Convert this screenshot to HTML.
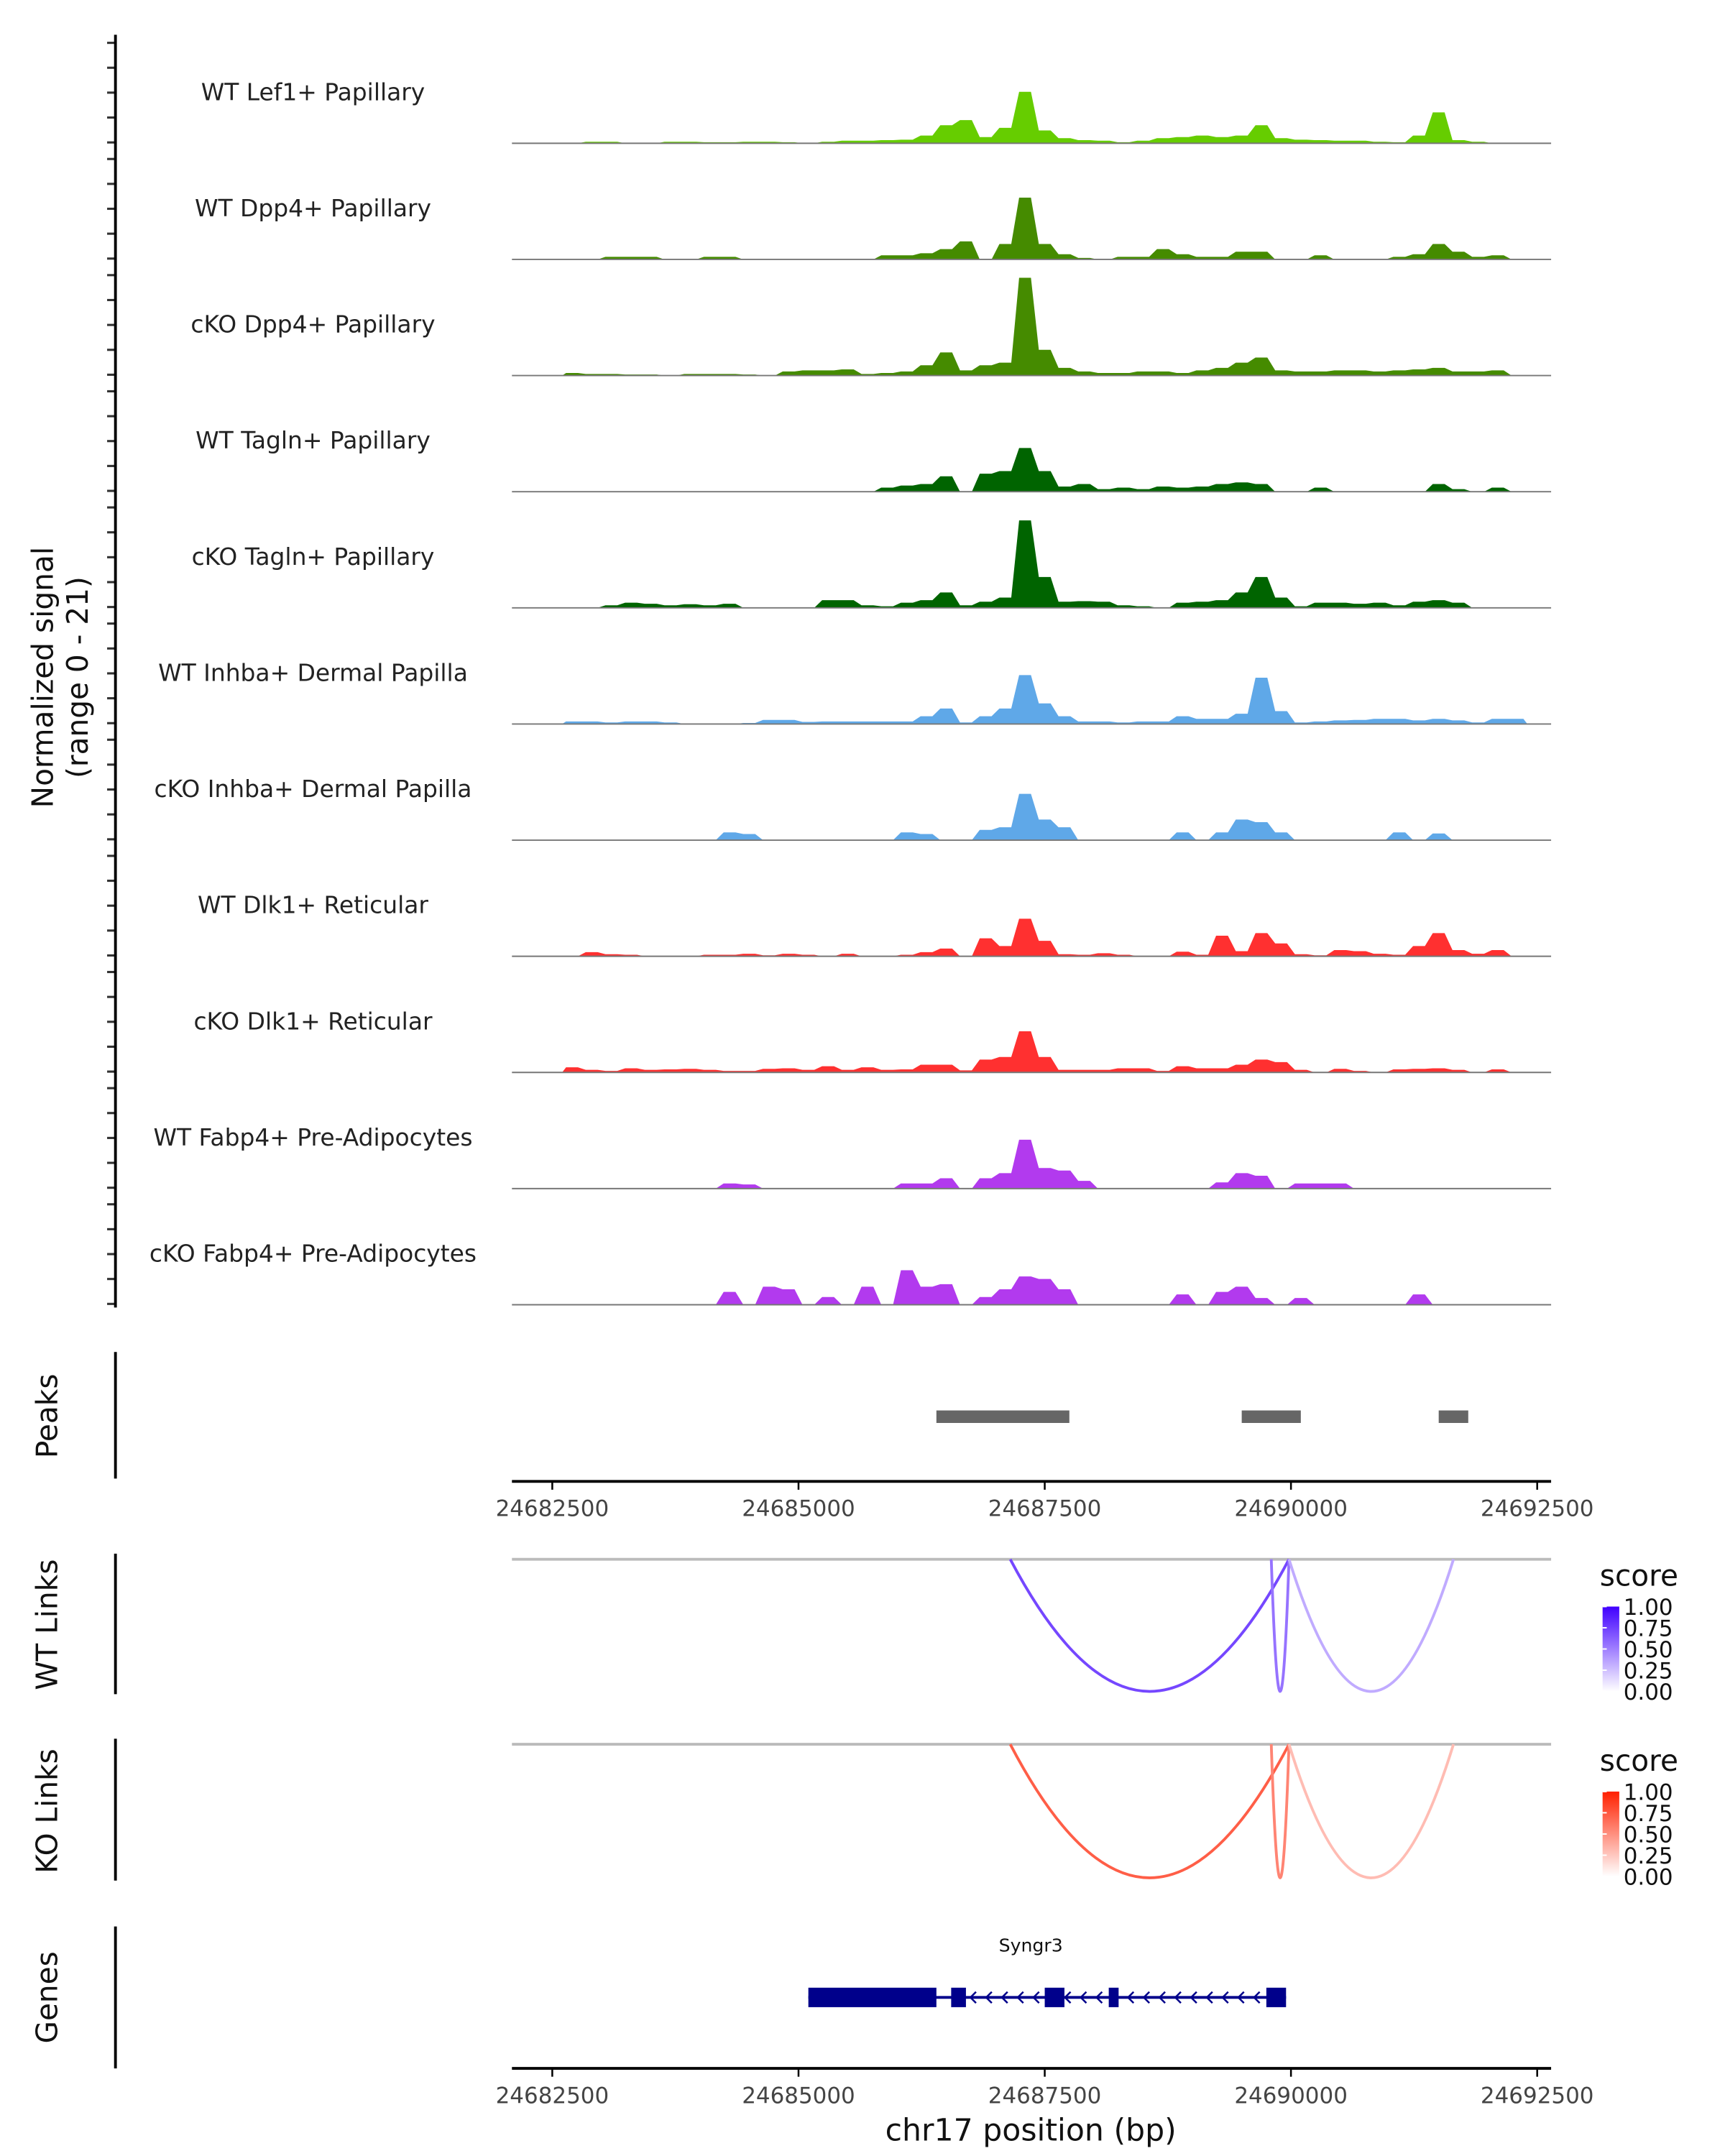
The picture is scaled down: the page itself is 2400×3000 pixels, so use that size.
<!DOCTYPE html>
<html><head><meta charset="utf-8"><style>
html,body{margin:0;padding:0;background:#fff}
svg{display:block}
text{font-family:"DejaVu Sans","Liberation Sans",sans-serif}
</style></head><body>
<svg id="chart" width="2400" height="3000" viewBox="0 0 1240 1550" preserveAspectRatio="none" xmlns="http://www.w3.org/2000/svg">
<g id="tracks"></g>
<g id="axes"></g>
<g id="links"></g>
<g id="genes"></g>
</svg>
<script>
const binStart = 24682600;
const binSize = 200;
const trackNames = ["WT Lef1+ Papillary","WT Dpp4+ Papillary","cKO Dpp4+ Papillary","WT Tagln+ Papillary","cKO Tagln+ Papillary","WT Inhba+ Dermal Papilla","cKO Inhba+ Dermal Papilla","WT Dlk1+ Reticular","cKO Dlk1+ Reticular","WT Fabp4+ Pre-Adipocytes","cKO Fabp4+ Pre-Adipocytes"];
const trackColors = ["#66cd00","#458b00","#458b00","#006400","#006400","#5fa8e8","#5fa8e8","#ff3030","#ff3030","#b23aee","#b23aee"];
const lef1WT = [0,0.3,0.3,0,0,0.3,0.3,0.2,0.2,0.3,0.3,0.2,0,0.3,0.5,0.5,0.6,0.7,1.5,3.5,4.5,1.2,3,10,2.5,1,0.6,0.5,0.2,0.5,1,1.2,1.5,1.2,1.5,3.5,1,0.7,0.6,0.5,0.5,0.3,0.2,1.5,6,0.6,0.3,0,0];
const dpp4WT = [0,0,0.5,0.5,0.5,0,0,0.5,0.5,0,0,0,0,0,0,0,0.8,0.8,1.2,2,3.5,0,3,12,3,1,0.3,0,0.5,0.5,2,1,0.5,0.5,1.5,1.5,0,0,0.8,0,0,0,0.5,1,3,1.5,0.5,0.8,0];
const dpp4KO = [0.5,0.3,0.3,0.2,0.2,0,0.3,0.3,0.3,0.2,0,0.8,1,1,1.2,0.3,0.5,0.8,2,4.5,1,2,2.5,19,5,1.5,0.8,0.5,0.5,0.8,0.8,0.5,1,1.5,2.5,3.5,1,0.8,0.8,1,1,0.8,1,1.2,1.5,0.8,0.8,1,0];
const taglnWT = [0,0,0,0,0,0,0,0,0,0,0,0,0,0,0,0,0.8,1.2,1.5,3,0,3.5,4,8.5,4,1,1.5,0.5,0.8,0.5,1,0.8,1,1.5,1.8,1.5,0,0,0.8,0,0,0,0,0,1.5,0.5,0,0.8,0];
const taglnKO = [0,0,0.5,1,0.8,0.5,0.7,0.5,0.8,0,0,0,0,1.5,1.5,0.5,0.3,1,1.5,3,0.5,1.2,2,17,6,1.2,1.3,1.2,0.5,0.3,0,1,1.2,1.5,3,6,2,0.3,1,1,0.8,1,0.5,1.2,1.5,1,0,0,0];
const inhbaWT = [0.5,0.5,0.3,0.5,0.5,0.3,0,0,0,0.2,0.8,0.8,0.4,0.5,0.5,0.5,0.5,0.5,1.5,3,0.3,1.5,3,9.5,4,1.5,0.5,0.5,0.3,0.5,0.5,1.5,1,1,2,9,2.5,0.3,0.5,0.7,0.8,1,1,0.7,1,0.7,0.3,1,1];
const inhbaKO = [0,0,0,0,0,0,0,0,1.5,1.2,0,0,0,0,0,0,0,1.5,1.2,0,0,2,2.5,9,4,2.5,0,0,0,0,0,1.5,0,1.5,4,3.5,1.5,0,0,0,0,0,1.5,0,1.3,0,0,0,0];
const dlk1WT = [0,0.8,0.4,0.3,0,0,0,0.3,0.3,0.5,0.2,0.5,0.3,0,0.5,0,0,0.3,0.8,1.5,0,3.5,2,7.3,3,0.4,0.3,0.6,0.3,0,0,0.9,0.3,4,1,4.5,2.5,0.4,0.2,1.2,1,0.5,0.3,2,4.5,1.2,0.5,1.2,0];
const dlk1KO = [1,0.5,0.3,0.8,0.5,0.6,0.7,0.5,0.3,0.3,0.7,0.8,0.5,1.2,0.5,1,0.5,0.6,1.5,1.5,0.4,2.5,3,8,3,0.5,0.5,0.5,0.8,0.8,0.3,1.2,0.8,0.8,1.5,2.5,2,0.5,0,0.7,0.3,0,0.6,0.7,0.8,0.5,0,0.6,0];
const fabp4WT = [0,0,0,0,0,0,0,0,1,0.8,0,0,0,0,0,0,0,1,1,2,0,2,3,9.5,4,3.5,1.5,0,0,0,0,0,0,1.2,3,2.5,0,1,1,1,0,0,0,0,0,0,0,0,0];
const fabp4KO = [0,0,0,0,0,0,0,0,2.5,0,3.5,3,0,1.5,0,3.5,0,6.7,3.5,4,0,1.5,3,5.5,5,3,0,0,0,0,0,2,0,2.5,3.5,1.3,0,1.3,0,0,0,0,0,2,0,0,0,0,0];
const trackValues = [lef1WT,dpp4WT,dpp4KO,taglnWT,taglnKO,inhbaWT,inhbaKO,dlk1WT,dlk1KO,fabp4WT,fabp4KO];
const xTicks = [24682500,24685000,24687500,24690000,24692500];
const peakStarts = [24686400,24689500,24691500];
const peakEnds = [24687750,24690100,24691800];
const linkStarts = [24687150,24689800,24689980];
const linkEnds = [24689980,24689980,24691650];
const wtScores = [0.72,0.55,0.33];
const koScores = [0.72,0.55,0.30];
const legendTicks = ["1.00","0.75","0.50","0.25","0.00"];
const exonStarts = [24685100,24686550,24687500,24688150,24689750];
const exonEnds = [24686400,24686700,24687700,24688250,24689950];
const geneStart = 24685100, geneEnd = 24689950;

const NS="http://www.w3.org/2000/svg";
function X(bp){return 397+(bp-24682500)*0.0708;}
const unitPx = 3.7;
function mk(tag,attrs,parent,txt){const e=document.createElementNS(NS,tag);for(const k in attrs)e.setAttribute(k,attrs[k]);if(txt!==undefined)e.textContent=txt;parent.appendChild(e);return e;}
const T=document.getElementById('tracks'),A=document.getElementById('axes'),L=document.getElementById('links'),G=document.getElementById('genes');

trackValues.forEach((vals,i)=>{
  const base=103+i*83.5;
  let d=`M${X(binStart)},${base}`;
  vals.forEach((v,j)=>{
    const xa=X(binStart+j*binSize+binSize*0.2),xb=X(binStart+j*binSize+binSize*0.8),y=base-v*unitPx;
    d+=` L${xa},${y} L${xb},${y}`;
  });
  d+=` L${X(binStart+vals.length*binSize)},${base} Z`;
  const p=mk('path',{d:d,fill:trackColors[i]},T);
  
  
  const bl=mk('line',{x1:368,x2:1115,y1:base,y2:base,stroke:'#777','stroke-width':1},T);
  
  
  const t=mk('text',{x:225,y:base-31,'text-anchor':'middle','font-size':17,fill:'#222'},T,trackNames[i]);
  
  
  for(let k=0;k<5;k++){const y=base-0.6-k*17.9;mk('line',{x1:77,x2:83,y1:y,y2:y,stroke:'#333','stroke-width':1.6},A);}
});

mk('line',{x1:83,x2:83,y1:25,y2:940,stroke:'#000','stroke-width':2},A);
const yt=mk('text',{transform:'translate(42,487) rotate(-90)','text-anchor':'middle','font-size':21,fill:'#111'},A);


mk('tspan',{x:0,dy:-4},yt,'Normalized signal');
mk('tspan',{x:0,dy:25},yt,'(range 0 - 21)');

function panelLabel(txt,yc,y1,y2,name){
  mk('line',{x1:83,x2:83,y1:y1,y2:y2,stroke:'#000','stroke-width':2},A);
  const t=mk('text',{transform:`translate(41,${yc}) rotate(-90)`,'text-anchor':'middle','font-size':21,fill:'#111'},A,txt);
  
  
}
panelLabel('Peaks',1018,972,1063,'peaks-label');
panelLabel('WT Links',1168,1117,1218,'wt-links-label');
panelLabel('KO Links',1302,1250,1352,'ko-links-label');
panelLabel('Genes',1436,1385,1487,'genes-label');

peakStarts.forEach((s,i)=>{
  const r=mk('rect',{x:X(s),y:1014,width:X(peakEnds[i])-X(s),height:9,fill:'#666'},A);
  
  
});

function xAxis(y,name){
  const g=mk('g',{},A);
  
  
  mk('line',{x1:368,x2:1115,y1:y,y2:y,stroke:'#000','stroke-width':2},g);
  xTicks.forEach(t=>{mk('line',{x1:X(t),x2:X(t),y1:y,y2:y+6,stroke:'#000','stroke-width':1.3},g);
    mk('text',{x:X(t),y:y+25,'text-anchor':'middle','font-size':16,fill:'#444'},g,String(t));});
}
xAxis(1065,'peaks-x-axis');
xAxis(1487,'genes-x-axis');
const xt=mk('text',{x:741,y:1539,'text-anchor':'middle','font-size':22,fill:'#111'},A,'chr17 position (bp)');



function linkPanel(top,bottom,scores,hi,gid,name){
  const g=mk('g',{},L);
  
  
  mk('line',{x1:368,x2:1115,y1:top,y2:top,stroke:'#bbb','stroke-width':2},g);
  scores.forEach((s,i)=>{
    const x0=X(linkStarts[i]),x1=X(linkEnds[i]);
    const c=`rgb(${Math.round(255+(hi[0]-255)*s)},${Math.round(255+(hi[1]-255)*s)},${Math.round(255+(hi[2]-255)*s)})`;
    const p=mk('path',{d:`M${x0},${top} Q${(x0+x1)/2},${2*bottom-top} ${x1},${top}`,fill:'none',stroke:c,'stroke-width':2},g);
    
    
  });
  const lg=mk('g',{},g);
  
  
  mk('text',{x:1150,y:top+19,'font-size':21,fill:'#111'},lg,'score');
  const defs=mk('defs',{},lg);
  const gr=mk('linearGradient',{id:gid,x1:0,y1:0,x2:0,y2:1},defs);
  mk('stop',{offset:0,'stop-color':`rgb(${hi.join(',')})`},gr);
  mk('stop',{offset:1,'stop-color':'#fff'},gr);
  const by=top+34;
  mk('rect',{x:1152,y:by,width:12,height:61,fill:`url(#${gid})`},lg);
  legendTicks.forEach((t,k)=>{const y=by+k*15.25;
    mk('line',{x1:1152,x2:1155,y1:y,y2:y,stroke:'#fff'},lg);
    mk('text',{x:1167,y:y+6,'font-size':16,fill:'#111'},lg,t);});
}
linkPanel(1121,1216,wtScores,[64,0,255],'gwt','wt-links');
linkPanel(1254,1350,koScores,[255,32,0],'gko','ko-links');

const gl=mk('text',{x:741,y:1403,'text-anchor':'middle','font-size':13,fill:'#111'},G,'Syngr3');


mk('line',{x1:X(geneStart),x2:X(geneEnd),y1:1436,y2:1436,stroke:'#00008b','stroke-width':2},G);
for(let bp=geneStart+1500;bp<geneEnd-200;bp+=160){
  const x=X(bp);
  mk('path',{d:`M${x+3},${1432} L${x-1},${1436} L${x+3},${1440}`,fill:'none',stroke:'#00008b','stroke-width':1.3},G);
}
exonStarts.forEach((s,i)=>{
  const r=mk('rect',{x:X(s),y:1429,width:X(exonEnds[i])-X(s),height:14,fill:'#00008b'},G);
  
  
});
</script>
</body></html>
